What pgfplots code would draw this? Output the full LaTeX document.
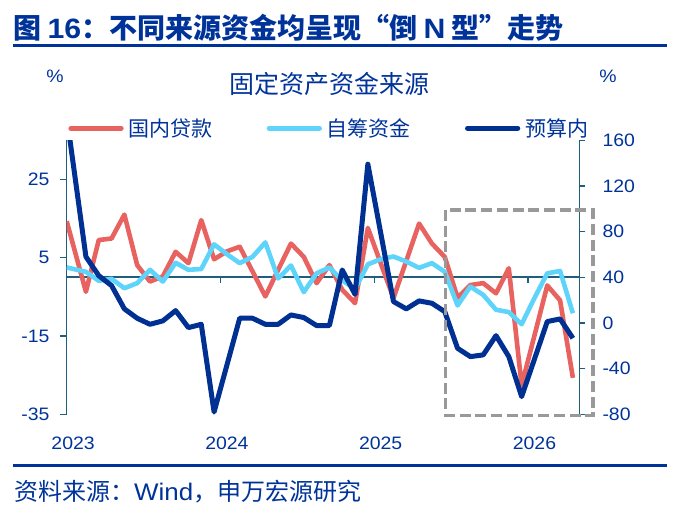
\documentclass[border=0pt]{standalone}
\usepackage{pgfplots}
\pgfplotsset{compat=1.18}
\usepackage{pgfplotstable}
\usepackage{fontspec}
\setmainfont{Liberation Sans}
\newfontfamily\numfont{Liberation Sans}[FakeStretch=1.08]
\newfontfamily\cjk{Noto Sans CJK SC}

\definecolor{ink}{RGB}{0,51,153}
\definecolor{loancol}{RGB}{232,98,96}
\definecolor{selfcol}{RGB}{94,212,250}
\definecolor{budgetcol}{RGB}{0,48,145}
\definecolor{axisc}{RGB}{31,95,125}
\definecolor{boxgray}{RGB}{153,153,153}

% m: month position; loan = 国内贷款 (%), self = 自筹资金 (%), budget = 预算内 (%)
\pgfplotstableread{
m     loan    self    budget
0     14.3    2.5     181
1.5   -3.7    1.4     58
2.5   9.5     -0.9    41.4
3.5   9.9     -0.4    32.7
4.5   16.0    -2.8    12.3
5.5   3.1     -1.5    4.1
6.5   -1.1    1.9     -1.2
7.5   0.2     -1.1    1.8
8.5   6.5     3.7     10.8
9.5   3.6     1.9     -4.1
10.5  14.6    2.1     -1.2
11.5  4.6     8.4     -78
12.5  6.6     5.9     -37
13.5  7.8     3.6     4.1
14.5  1.5     5.2     4.1
15.5  -4.9    8.9     -1.2
16.5  1.9     -0.3    -1.2
17.5  8.6     3.0     7.0
18.5  5.2     -3.8    4.7
19.5  -1.5    1.0     -2.3
20.5  3.1     2.5     -2.3
21.5  -3.2    -0.8    46.4
22.5  -6.6    -3.0    25.1
23.5  12.6    3.3     139
24.5  3.6     4.6     79
25.5  -5.3    5.3     18.7
26.5  4.2     4.0     12.3
27.5  13.7    2.4     19.3
28.5  8.6     3.6     17.2
29.5  5.2     1.4     9.9
30.5  -5.2    -7.2    -22.2
31.5  -2.0    -2.4    -29.5
32.5  -1.5    -4.5    -28
33.5  -4.1    -8.3    -11.1
34.5  2.3     -8.9    -29.5
35.5  -27.6   -12.0   -64.5
36.5  -14.9   -5.3    -31.7
37.5  -2.1    1.0     1.2
38.5  -5.9    1.6     3.5
39.5  -25.7   -9.2    -13.4
}\fundsrc

\begin{document}
\begin{tikzpicture}
\useasboundingbox (0bp,0bp) rectangle (680bp,515bp);

% heading and rules
\node[anchor=west, inner sep=0pt, text=ink] at (13bp,487bp)
  {\fontsize{28bp}{28bp}\selectfont{\cjk\bfseries 图 }{\numfont\bfseries 16}{\cjk\bfseries ：不同来源资金均呈现“倒 }{\numfont\bfseries N}{\cjk\bfseries \ 型”走势}};
\draw[ink, line width=3bp] (13bp,469bp) -- (667bp,469bp);
\draw[ink, line width=3bp] (13bp,49bp) -- (667bp,49bp);
\node[anchor=west, inner sep=0pt, text=ink] at (14bp,23bp)
  {\fontsize{24bp}{24bp}\selectfont{\cjk 资料来源：}{\numfont Wind}{\cjk ，申万宏源研究}};

% chart title and unit marks
\node[text=ink, inner sep=0pt] at (329.5bp,431.5bp) {\cjk\fontsize{25bp}{25bp}\selectfont 固定资产资金来源};
\node[text=ink, inner sep=0pt] at (55bp,439bp) {\numfont\fontsize{18bp}{18bp}\selectfont \%};
\node[text=ink, inner sep=0pt] at (608bp,439bp) {\numfont\fontsize{18bp}{18bp}\selectfont \%};

% left axis: 国内贷款, 自筹资金
\begin{axis}[
  at={(66.7bp,100.7bp)}, anchor=south west,
  scale only axis, width=512.6bp, height=274.1bp,
  xmin=0, xmax=40, ymin=-35, ymax=35,
  axis y line*=left, axis x line*=bottom,
  axis line style={-},
  x axis line style={draw=none},
  y axis line style={draw=axisc, line width=1.5bp},
  xtick={0.5,12.5,24.5,36.5}, xticklabels={2023,2024,2025,2026},
  xtick style={draw=none},
  ytick={-35,-15,5,25}, yticklabels={-35,-15,5,25},
  ytick style={draw=axisc, line width=1.3bp},
  tick align=outside, major tick length=7bp,
  ticklabel style={font=\numfont\fontsize{18bp}{18bp}\selectfont, text=ink},
  xticklabel style={anchor=center, yshift=-22bp},
  yticklabel style={anchor=east, inner sep=0pt, xshift=-10bp},
  legend columns=3,
  legend style={at={(0.0033,1.0434)}, anchor=west, draw=none, fill=none,
    inner sep=0pt, outer sep=0pt,
    font=\cjk\fontsize{21bp}{21bp}\selectfont, text=ink,
    nodes={inner sep=0pt, inner xsep=5bp},
    /tikz/every odd column/.append style={column sep=0pt},
    /tikz/every even column/.append style={column sep=49bp}},
  legend image code/.code={\draw[#1, line width=5.3bp, line cap=round] (0bp,0bp) -- (50bp,0bp);},
]
\draw[axisc, line width=1.5bp] (axis cs:0,0) -- (axis cs:40,0);
\draw[axisc, line width=1.3bp] (axis cs:12,0) -- ++(0bp,-6bp);
\draw[axisc, line width=1.3bp] (axis cs:24,0) -- ++(0bp,-6bp);
\draw[axisc, line width=1.3bp] (axis cs:36,0) -- ++(0bp,-6bp);
\addplot[loancol, line width=4.6bp, line join=round] table[x=m, y=loan] {\fundsrc};
\addlegendentry{国内贷款}
\addplot[selfcol, line width=4.6bp, line join=round] table[x=m, y=self] {\fundsrc};
\addlegendentry{自筹资金}
\addlegendimage{budgetcol, line width=5bp}
\addlegendentry{预算内}
\end{axis}

% right axis: 预算内
\begin{axis}[
  at={(66.7bp,100.7bp)}, anchor=south west,
  scale only axis, width=512.6bp, height=274.1bp,
  xmin=0, xmax=40, ymin=-80, ymax=160,
  axis x line=none, axis y line*=right,
  axis line style={-},
  y axis line style={draw=axisc, line width=1.5bp},
  ytick={-80,-40,0,40,80,120,160}, yticklabels={-80,-40,0,40,80,120,160},
  ytick style={draw=axisc, line width=1.3bp},
  tick align=outside, major tick length=6bp,
  ticklabel style={font=\numfont\fontsize{18bp}{18bp}\selectfont, text=ink},
  yticklabel style={anchor=west, inner sep=0pt, xshift=17bp},
]
\addplot[budgetcol, line width=5bp, line join=round] table[x=m, y=budget] {\fundsrc};
\coordinate (boxA) at (axis cs:29.55,98.9);
\coordinate (boxB) at (axis cs:41.06,-81.1);
\end{axis}

\draw[boxgray, line width=3.5bp, dash pattern=on 11bp off 4.7bp] (boxA) rectangle (boxB);
\end{tikzpicture}
\end{document}
